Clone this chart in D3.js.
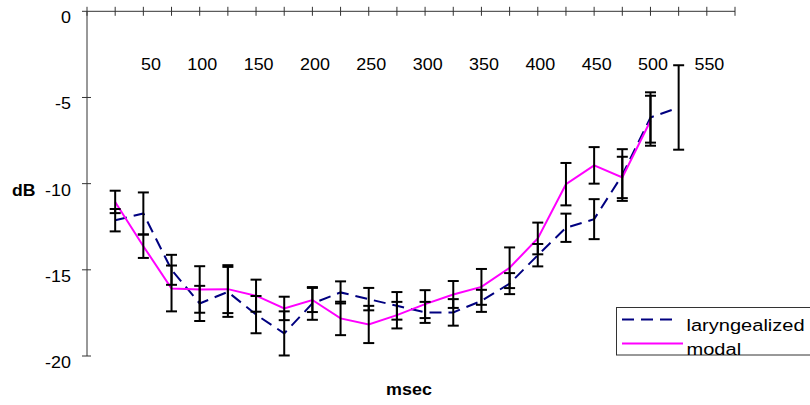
<!DOCTYPE html>
<meta charset="utf-8">
<style>
body { margin: 0; background: #fff; }
text { font-family: "Liberation Sans", Arial, sans-serif; fill: #000; }
.axis-line { stroke: #333; stroke-width: 1px; fill: none; }
.errbar { stroke: #000; stroke-width: 2px; fill: none; }
.laryngealized { fill: none; stroke: #000080; stroke-width: 2px; stroke-dasharray: 12,7; }
.modal { fill: none; stroke: #ff00ff; stroke-width: 2px; }
.legend-box { fill: #fff; stroke: #333; stroke-width: 1px; }
</style>
<body>
<script src="https://d3js.org/d3.v7.min.js"></script>
<script>
var width = 810,
    height = 405;

// msec
var times = [25, 50, 75, 100, 125, 150, 175, 200, 225, 250, 275,
             300, 325, 350, 375, 400, 425, 450, 475, 500, 525];

// dB means and error bar half-widths
var laryngealMean = [-12.12, -11.73, -15.0, -16.95, -16.28, -17.6, -18.69, -16.95, -16.31, -16.7, -17.09,
                     -17.47, -17.47, -16.8, -15.8, -14.15, -12.56, -12.06, -9.5, -6.16, -5.58];
var laryngealErr  = [0.65, 1.22, 0.87, 1.02, 1.45, 1.08, 1.28, 0.95, 0.64, 0.65, 0.8,
                     0.61, 0.77, 0.64, 0.61, 0.65, 0.82, 1.16, 1.5, 1.46, 2.45];

var modalMean = [-11.06, -13.63, -16.08, -16.14, -16.12, -16.5, -17.24, -16.75, -17.82, -18.17,
                 -17.63, -16.99, -16.43, -15.99, -14.88, -13.18, -10.03, -8.94, -9.64, -6.35];
var modalErr  = [0.65, 0.68, 1.33, 1.35, 1.39, 0.93, 0.68, 0.7, 0.97, 1.08,
                 0.77, 0.81, 0.78, 1.04, 1.18, 0.92, 1.23, 1.06, 1.2, 1.45];

var xTickLabels = [50, 100, 150, 200, 250, 300, 350, 400, 450, 500, 550];
var yTicks = [0, -5, -10, -15, -20];

var x = d3.scaleLinear().domain([0, 575]).range([87, 735]);
var y = d3.scaleLinear().domain([0, -20]).range([11.3, 356]);

var svg = d3.select("body").append("svg")
    .attr("width", width)
    .attr("height", height);

// x axis along the top (0 dB)
svg.append("line")
    .attr("class", "axis-line")
    .attr("x1", x(0)).attr("x2", x(575))
    .attr("y1", y(0)).attr("y2", y(0));

svg.selectAll(".xtick")
    .data(d3.range(0, 576, 25))
  .enter().append("line")
    .attr("class", "axis-line xtick")
    .attr("x1", d => x(d)).attr("x2", d => x(d))
    .attr("y1", y(0) - 4.5).attr("y2", y(0) + 4.5);

svg.selectAll(".xlabel")
    .data(xTickLabels)
  .enter().append("text")
    .attr("class", "xlabel")
    .attr("text-anchor", "end")
    .attr("font-size", 16)
    .attr("transform", d => "translate(" + (x(d) + 17.5) + ",70) scale(1.12,1)")
    .text(d => d);

// y axis
svg.append("line")
    .attr("class", "axis-line")
    .attr("x1", x(0)).attr("x2", x(0))
    .attr("y1", y(0)).attr("y2", y(-20));

svg.selectAll(".ytick")
    .data(yTicks)
  .enter().append("line")
    .attr("class", "axis-line ytick")
    .attr("x1", x(0) - 5).attr("x2", x(0) + (d => 0))
    .attr("x2", d => d === 0 ? x(0) : x(0) + 4)
    .attr("y1", d => y(d)).attr("y2", d => y(d));

svg.selectAll(".ylabel")
    .data(yTicks)
  .enter().append("text")
    .attr("class", "ylabel")
    .attr("text-anchor", "end")
    .attr("font-size", 16)
    .attr("transform", d => "translate(71," + (y(d) + 12) + ") scale(1.12,1)")
    .text(d => d);

svg.append("text")
    .attr("font-size", 16)
    .attr("font-weight", "bold")
    .attr("transform", "translate(12,196) scale(1.1,1)")
    .text("dB");

svg.append("text")
    .attr("font-size", 16)
    .attr("font-weight", "bold")
    .attr("text-anchor", "middle")
    .attr("transform", "translate(409,395) scale(1.12,1)")
    .text("msec");

// series lines
var lineL = d3.line().x((d, i) => x(times[i])).y(d => y(d));

svg.append("path")
    .datum(laryngealMean)
    .attr("class", "laryngealized")
    .attr("d", lineL);

svg.append("path")
    .datum(modalMean)
    .attr("class", "modal")
    .attr("d", lineL);

// error bars
function errorBars(means, errs, cls) {
  var g = svg.append("g").attr("class", cls + "-err");
  var bars = g.selectAll("g")
      .data(means.map((m, i) => ({t: times[i], m: m, e: errs[i]})))
    .enter().append("g");
  bars.append("line")
      .attr("class", "errbar")
      .attr("x1", d => x(d.t)).attr("x2", d => x(d.t))
      .attr("y1", d => y(d.m + d.e)).attr("y2", d => y(d.m - d.e));
  bars.append("line")
      .attr("class", "errbar")
      .attr("x1", d => x(d.t) - 5.5).attr("x2", d => x(d.t) + 5.5)
      .attr("y1", d => y(d.m + d.e)).attr("y2", d => y(d.m + d.e));
  bars.append("line")
      .attr("class", "errbar")
      .attr("x1", d => x(d.t) - 5.5).attr("x2", d => x(d.t) + 5.5)
      .attr("y1", d => y(d.m - d.e)).attr("y2", d => y(d.m - d.e));
}
errorBars(laryngealMean, laryngealErr, "laryngealized");
errorBars(modalMean, modalErr, "modal");

// legend
var legend = svg.append("g").attr("class", "legend");
legend.append("rect")
    .attr("class", "legend-box")
    .attr("x", 616.5).attr("y", 307.5)
    .attr("width", 200).attr("height", 47.5);
legend.append("line")
    .attr("class", "laryngealized")
    .attr("x1", 622).attr("x2", 677)
    .attr("y1", 319.5).attr("y2", 319.5);
legend.append("line")
    .attr("class", "modal")
    .attr("x1", 622).attr("x2", 683)
    .attr("y1", 343.5).attr("y2", 343.5);
legend.append("text")
    .attr("font-size", 17)
    .attr("transform", "translate(686.5,331) scale(1.18,1)")
    .text("laryngealized");
legend.append("text")
    .attr("font-size", 17)
    .attr("transform", "translate(686.5,354.5) scale(1.18,1)")
    .text("modal");
</script>
</body>
